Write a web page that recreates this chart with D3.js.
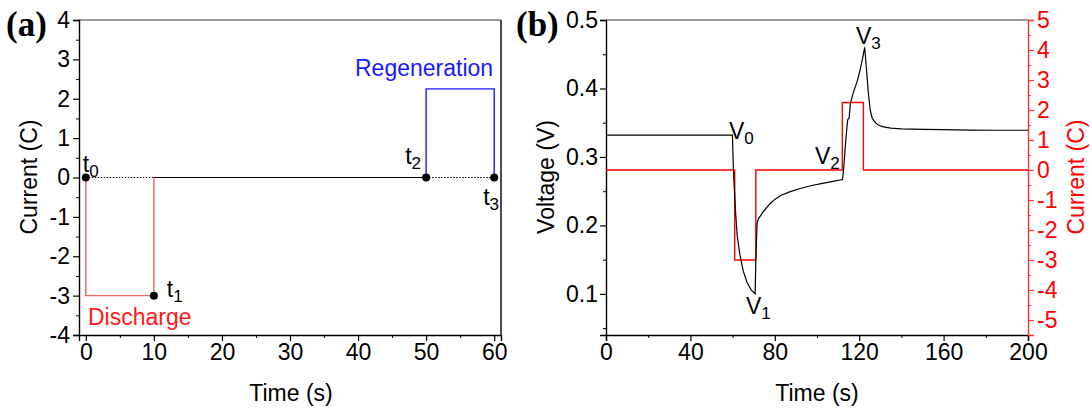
<!DOCTYPE html>
<html>
<head>
<meta charset="utf-8">
<script src="https://cdn.jsdelivr.net/npm/d3@7"></script>
<style>
  html, body { margin: 0; padding: 0; background: #fff; }
  svg { display: block; font-family: "Liberation Sans", Arial, sans-serif; }
</style>
</head>
<body>
<svg id="chart" width="1092" height="410"></svg>
<script>
// ---------- Panel (a): current protocol ----------
const aTimeTicks = [0, 10, 20, 30, 40, 50, 60];
const aTimeMinor = [5, 15, 25, 35, 45, 55];
const aCurrentTicks = [-4, -3, -2, -1, 0, 1, 2, 3, 4];
const aCurrentMinor = [-3.5, -2.5, -1.5, -0.5, 0.5, 1.5, 2.5, 3.5];

const dischargeTime = [0, 0, 10, 10];
const dischargeCurrent = [0, -3, -3, 0];
const regenTime = [50, 50, 60, 60];
const regenCurrent = [0, 2.25, 2.25, 0];
const restSolidTime = [10, 50];
const restDottedA = [0, 10];
const restDottedB = [50, 60];
const markerTime = [0, 10, 50, 60];
const markerCurrent = [0, -3, 0, 0];
const markerIndex = ["0", "1", "2", "3"];

// ---------- Panel (b): voltage response ----------
const bTimeTicks = [0, 40, 80, 120, 160, 200];
const bTimeMinor = [20, 60, 100, 140, 180];
const bVoltTicks = [0.1, 0.2, 0.3, 0.4, 0.5];
const bVoltMinor = [0.05, 0.15, 0.25, 0.35, 0.45];
const bCurrTicks = [-5, -4, -3, -2, -1, 0, 1, 2, 3, 4, 5];
const bCurrMinor = [-5.5, -4.5, -3.5, -2.5, -1.5, -0.5, 0.5, 1.5, 2.5, 3.5, 4.5];

const profileTime    = [0, 61, 61, 71, 71, 112, 112, 122, 122, 200];
const profileCurrent = [0, 0, -3, -3, 0, 0, 2.25, 2.25, 0, 0];

const voltageTime = [0, 59.9, 60.4, 60.9, 61.5, 62.2, 63.4, 65.0, 66.8, 68.8, 70.7,
  71.0, 71.6, 72.3, 73.2, 74.3, 75.6, 77.5, 80, 83, 87, 92, 97, 102, 107, 112.1,
  112.7, 113.4, 114.2, 114.6, 115.2, 115.8, 117.3, 119.0, 120.5, 121.6, 122.6,
  123.4, 124.3, 125.2, 126.0, 126.9, 128.0, 129.5, 131.5, 135, 140, 150, 160, 172, 185, 200];
const voltageValue = [0.332, 0.332, 0.281, 0.250, 0.215, 0.185, 0.158, 0.134, 0.117, 0.106, 0.100,
  0.150, 0.203, 0.210, 0.214, 0.219, 0.224, 0.231, 0.238, 0.244, 0.249, 0.254, 0.258, 0.261, 0.264, 0.267,
  0.285, 0.315, 0.344, 0.355, 0.356, 0.378, 0.395, 0.410, 0.428, 0.444, 0.460,
  0.430, 0.395, 0.369, 0.358, 0.353, 0.349, 0.346, 0.344, 0.342, 0.3410, 0.3403, 0.3398, 0.3393, 0.339, 0.339];

const svg = d3.select("#chart");
const FONT = 23;
const LABEL = 23;

function drawTicks(g, axis) { g.call(axis); g.select(".domain").remove(); }

// ===== Panel (a) =====
const ax = d3.scaleLinear().domain([-1, 61]).range([79, 501]);
const ay = d3.scaleLinear().domain([-4, 4]).range([335, 20]);
const pa = svg.append("g");

// frame
pa.append("line").attr("x1", 79).attr("x2", 501).attr("y1", 20).attr("y2", 20)
  .attr("stroke", "#7a7a7a").attr("stroke-width", 1.4);
pa.append("line").attr("x1", 501).attr("x2", 501).attr("y1", 20).attr("y2", 335)
  .attr("stroke", "#000").attr("stroke-width", 1.4);

const axBottom = pa.append("g").attr("transform", "translate(0,335)");
axBottom.call(d3.axisBottom(ax).tickValues(aTimeTicks).tickSize(6).tickPadding(3).tickFormat(d => String(d)));
axBottom.select(".domain").attr("stroke-width", 1.4);
axBottom.selectAll("text").attr("font-size", FONT).attr("fill", "#000");
axBottom.selectAll("line").attr("stroke-width", 1.2);
pa.append("g").attr("transform", "translate(0,335)")
  .call(g => drawTicks(g, d3.axisBottom(ax).tickValues(aTimeMinor).tickSize(3).tickFormat("")));

const axLeft = pa.append("g").attr("transform", "translate(79,0)");
axLeft.call(d3.axisLeft(ay).tickValues(aCurrentTicks).tickSize(6).tickPadding(3).tickFormat(d => String(d)));
axLeft.select(".domain").attr("stroke-width", 1.4);
axLeft.selectAll("text").attr("font-size", FONT).attr("fill", "#000");
axLeft.selectAll("line").attr("stroke-width", 1.2);
pa.append("g").attr("transform", "translate(79,0)")
  .call(g => drawTicks(g, d3.axisLeft(ay).tickValues(aCurrentMinor).tickSize(3).tickFormat("")));

const lineA = d3.line().x(d => ax(d[0])).y(d => ay(d[1]));
// rest periods
pa.append("path").attr("d", lineA(restSolidTime.map(t => [t, 0])))
  .attr("stroke", "#000").attr("stroke-width", 1.2).attr("fill", "none");
[restDottedA, restDottedB].forEach(seg => {
  pa.append("path").attr("d", lineA(seg.map(t => [t, 0])))
    .attr("stroke", "#000").attr("stroke-width", 1).attr("stroke-dasharray", "1.5,1.5").attr("fill", "none");
});
// discharge pulse
pa.append("path").attr("d", lineA(dischargeTime.map((t, i) => [t, dischargeCurrent[i]])))
  .attr("stroke", "#f06464").attr("stroke-width", 1.4).attr("fill", "none");
// regeneration pulse
pa.append("path").attr("d", lineA(regenTime.map((t, i) => [t, regenCurrent[i]])))
  .attr("stroke", "#1a1aff").attr("stroke-width", 1.4).attr("fill", "none");
// markers
pa.selectAll("circle.m").data(markerTime).enter().append("circle")
  .attr("cx", d => ax(d)).attr("cy", (d, i) => ay(markerCurrent[i])).attr("r", 4).attr("fill", "#000");

const tOffsets = [[-3, -6], [13, 1], [-21, -14], [-11, 27]];
function subLabel(g, x, y, main, sub, color) {
  const t = g.append("text").attr("x", x).attr("y", y).attr("font-size", LABEL).attr("fill", color || "#000");
  t.append("tspan").text(main);
  t.append("tspan").attr("font-size", 17).attr("dy", 5).text(sub);
  return t;
}
markerTime.forEach((tm, i) => {
  subLabel(pa, ax(tm) + tOffsets[i][0], ay(markerCurrent[i]) + tOffsets[i][1], "t", markerIndex[i]);
});

pa.append("text").attr("x", 88).attr("y", 325).attr("font-size", LABEL).attr("fill", "#ff1a1a").text("Discharge");
pa.append("text").attr("x", 355).attr("y", 76).attr("font-size", LABEL).attr("fill", "#1a1aff").text("Regeneration");

pa.append("text").attr("transform", "translate(37,177) rotate(-90)").attr("text-anchor", "middle")
  .attr("font-size", LABEL).text("Current (C)");
pa.append("text").attr("x", 291).attr("y", 401).attr("text-anchor", "middle")
  .attr("font-size", LABEL).text("Time (s)");
pa.append("text").attr("x", 6).attr("y", 36).attr("font-size", 35).attr("font-weight", "bold")
  .attr("font-family", "Liberation Serif, Times New Roman, serif").text("(a)");

// ===== Panel (b) =====
const bx = d3.scaleLinear().domain([0, 200]).range([606, 1028]);
const by = d3.scaleLinear().domain([0.04, 0.5]).range([335, 20]);
const bc = d3.scaleLinear().domain([-5.5, 5]).range([335, 20]);
const pb = svg.append("g");

pb.append("line").attr("x1", 606).attr("x2", 1028).attr("y1", 20).attr("y2", 20)
  .attr("stroke", "#7a7a7a").attr("stroke-width", 1.4);

const bxAxis = pb.append("g").attr("transform", "translate(0,335)");
bxAxis.call(d3.axisBottom(bx).tickValues(bTimeTicks).tickSize(6).tickPadding(3).tickFormat(d => String(d)));
bxAxis.select(".domain").attr("stroke-width", 1.4);
bxAxis.selectAll("text").attr("font-size", FONT).attr("fill", "#000");
bxAxis.selectAll("line").attr("stroke-width", 1.2);
pb.append("g").attr("transform", "translate(0,335)")
  .call(g => drawTicks(g, d3.axisBottom(bx).tickValues(bTimeMinor).tickSize(3).tickFormat("")));

const byAxis = pb.append("g").attr("transform", "translate(606,0)");
byAxis.call(d3.axisLeft(by).tickValues(bVoltTicks).tickSize(6).tickPadding(2).tickFormat(d3.format(".1f")));
byAxis.select(".domain").attr("stroke-width", 1.4);
byAxis.selectAll("text").attr("font-size", FONT).attr("fill", "#000");
byAxis.selectAll("line").attr("stroke-width", 1.2);
pb.append("g").attr("transform", "translate(606,0)")
  .call(g => drawTicks(g, d3.axisLeft(by).tickValues(bVoltMinor).tickSize(3).tickFormat("")));

const bcAxis = pb.append("g").attr("transform", "translate(1028,0)");
bcAxis.call(d3.axisRight(bc).tickValues(bCurrTicks).tickSize(6).tickPadding(3).tickFormat(d => String(d)));
bcAxis.select(".domain").attr("stroke", "#ff3333").attr("stroke-width", 1.4);
bcAxis.selectAll("text").attr("font-size", FONT).attr("fill", "#ff0000");
bcAxis.selectAll("line").attr("stroke", "#ff3333").attr("stroke-width", 1.2);
pb.append("g").attr("transform", "translate(1028,0)")
  .call(g => { drawTicks(g, d3.axisRight(bc).tickValues(bCurrMinor).tickSize(3).tickFormat(""));
               g.selectAll("line").attr("stroke", "#ff3333"); });

// current profile
const lineC = d3.line().x((d, i) => bx(profileTime[i])).y(d => bc(d));
pb.append("path").attr("d", lineC(profileCurrent))
  .attr("stroke", "#ff0000").attr("stroke-width", 1.4).attr("fill", "none");
// voltage response
const lineV = d3.line().x((d, i) => bx(voltageTime[i])).y(d => by(d));
pb.append("path").attr("d", lineV(voltageValue))
  .attr("stroke", "#000").attr("stroke-width", 1.2).attr("fill", "none");

// voltage labels
subLabel(pb, 729, 139, "V", "0");
subLabel(pb, 746, 314, "V", "1");
subLabel(pb, 815, 164, "V", "2");
subLabel(pb, 856, 44, "V", "3");

pb.append("text").attr("transform", "translate(554,177) rotate(-90)").attr("text-anchor", "middle")
  .attr("font-size", LABEL).text("Voltage (V)");
pb.append("text").attr("transform", "translate(1084,177) rotate(-90)").attr("text-anchor", "middle")
  .attr("font-size", LABEL).attr("fill", "#ff0000").text("Current (C)");
pb.append("text").attr("x", 817).attr("y", 401).attr("text-anchor", "middle")
  .attr("font-size", LABEL).text("Time (s)");
pb.append("text").attr("x", 516).attr("y", 36).attr("font-size", 35).attr("font-weight", "bold")
  .attr("font-family", "Liberation Serif, Times New Roman, serif").text("(b)");
</script>
</body>
</html>
